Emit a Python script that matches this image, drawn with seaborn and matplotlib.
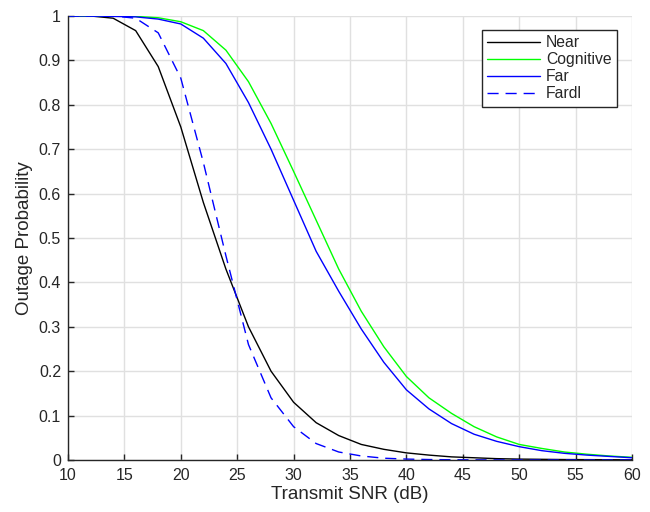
import numpy as np
import pandas as pd
import seaborn as sns
import matplotlib.pyplot as plt

# Transmit SNR (dB), one point every 2 dB
snr = list(range(10, 61, 2))

near = [1.0, 1.0, 0.995, 0.967, 0.886, 0.75, 0.58, 0.43, 0.30, 0.20, 0.13,
        0.084, 0.055, 0.035, 0.024, 0.016, 0.011, 0.007, 0.005, 0.003, 0.002,
        0.0015, 0.001, 0.0008, 0.0006, 0.0004]
cognitive = [1.0, 1.0, 1.0, 0.999, 0.996, 0.987, 0.967, 0.923, 0.852, 0.758,
             0.65, 0.54, 0.43, 0.335, 0.255, 0.188, 0.14, 0.105, 0.075, 0.052,
             0.035, 0.026, 0.018, 0.013, 0.009, 0.006]
far = [1.0, 1.0, 0.999, 0.998, 0.993, 0.982, 0.95, 0.893, 0.805, 0.70, 0.585,
       0.47, 0.38, 0.295, 0.22, 0.158, 0.115, 0.082, 0.058, 0.042, 0.03,
       0.021, 0.015, 0.011, 0.008, 0.005]
fardl = [1.0, 1.0, 1.0, 0.995, 0.962, 0.86, 0.67, 0.46, 0.26, 0.14, 0.075,
         0.037, 0.018, 0.009, 0.004, 0.002, 0.001, 0.0005, 0.0003, 0.0002,
         0.0001, 0.0, 0.0, 0.0, 0.0, 0.0]

series = ['Near', 'Cognitive', 'Far', 'Fardl']
df = pd.DataFrame({
    'snr': snr * 4,
    'prob': near + cognitive + far + fardl,
    'curve': np.repeat(series, len(snr)),
})

sns.set_style('white')
plt.rcParams['font.family'] = ['Liberation Sans', 'DejaVu Sans']

fig = plt.figure(figsize=(6.5, 5.12), dpi=100)
ax = fig.add_axes([0.1046, 0.1016, 0.8677, 0.8672])

colors = {'Near': 'black', 'Cognitive': '#00ff00', 'Far': '#0000ff', 'Fardl': '#0000ff'}
dashes = {'Near': '', 'Cognitive': '', 'Far': '', 'Fardl': (8, 5)}
sns.lineplot(data=df, x='snr', y='prob', hue='curve', style='curve',
             palette=colors, dashes=dashes, hue_order=series, style_order=series,
             linewidth=1.0, ax=ax)

ax.set_xlim(10, 60)
ax.set_ylim(0, 1)
ax.set_xticks(range(10, 61, 5))
ax.set_yticks(np.arange(0, 1.01, 0.1))
ax.set_yticklabels(['0', '0.1', '0.2', '0.3', '0.4', '0.5', '0.6', '0.7', '0.8', '0.9', '1'])
ax.grid(True, color='#e0e0e0', linewidth=1.0)
ax.set_axisbelow(True)
# MATLAB-style: only left and bottom axis lines, no box
ax.spines['top'].set_visible(False)
ax.spines['right'].set_visible(False)
for s in ['left', 'bottom']:
    ax.spines[s].set_color('#262626')
    ax.spines[s].set_linewidth(1.0)
ax.tick_params(direction='in', length=4, bottom=True, left=True,
               labelsize=11.5, colors='#262626', width=1.0)
ax.tick_params(axis='x', pad=6)
ax.tick_params(axis='y', pad=5)
ax.set_xlabel('Transmit SNR (dB)', fontsize=13.5, color='#262626', labelpad=2)
ax.set_ylabel('Outage Probability', fontsize=13.5, color='#262626', labelpad=4)

leg = ax.legend(loc='upper right', bbox_to_anchor=(0.9734, 0.9685), fontsize=11.3,
                fancybox=False, framealpha=1, edgecolor='#262626',
                handlelength=3.4, handletextpad=0.35, borderpad=0.35,
                labelspacing=0.12, borderaxespad=0)
leg.get_frame().set_linewidth(1.0)

plt.savefig('out.png', dpi=100)
